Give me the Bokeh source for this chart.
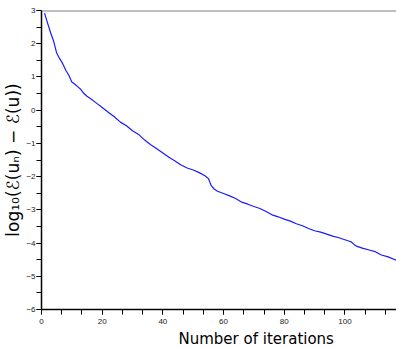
from bokeh.plotting import figure
from bokeh.models import Range1d, Span, FixedTicker, CustomJSTickFormatter, Title
from bokeh.embed import file_html
from bokeh.resources import INLINE

iterations = [1, 2, 3, 4, 5, 6, 7, 8, 9, 10, 11, 12, 13, 14, 15, 16, 18, 20, 22, 24,
              26, 28, 30, 32, 34, 36, 38, 40, 42, 44, 46, 48, 50, 52, 54, 55, 56, 57,
              58, 60, 62, 64, 66, 68, 70, 72, 74, 76, 78, 80, 82, 84, 86, 88, 90, 92,
              94, 96, 98, 100, 102, 103, 104, 106, 108, 110, 112, 114, 117]
log_error = [2.92, 2.62, 2.33, 2.08, 1.72, 1.55, 1.40, 1.20, 1.05, 0.85, 0.78, 0.70,
             0.62, 0.50, 0.42, 0.36, 0.22, 0.08, -0.06, -0.20, -0.36, -0.47, -0.62,
             -0.73, -0.90, -1.04, -1.16, -1.29, -1.42, -1.53, -1.65, -1.74, -1.80,
             -1.88, -1.98, -2.06, -2.28, -2.38, -2.44, -2.51, -2.58, -2.66, -2.77,
             -2.83, -2.90, -2.96, -3.05, -3.15, -3.21, -3.28, -3.34, -3.42, -3.48,
             -3.56, -3.63, -3.67, -3.73, -3.79, -3.84, -3.90, -3.96, -4.04, -4.10,
             -4.16, -4.21, -4.26, -4.36, -4.41, -4.52]
x_ticks = [0, 20, 40, 60, 80, 100]
y_ticks = [-6, -5, -4, -3, -2, -1, 0, 1, 2, 3]

p = figure(width=396, height=348, output_backend="svg", toolbar_location=None,
           x_range=Range1d(0, 117), y_range=Range1d(-6, 3),
           min_border_left=41, min_border_top=10, min_border_right=0, min_border_bottom=0)
p.outline_line_color = None
p.grid.visible = False
p.background_fill_color = "white"

p.line(iterations, log_error, line_color="#1a1aff", line_width=1.2)

top = Span(location=3, dimension="width", line_color="#808080", line_width=2)
p.add_layout(top)

fmt = CustomJSTickFormatter(code="return tick < 0 ? '\\u2212' + Math.abs(tick) : String(tick);")

xa = p.xaxis[0]
xa.ticker = FixedTicker(ticks=x_ticks, minor_ticks=[i * 20 / 3 for i in range(0, 18)])
ya = p.yaxis[0]
ya.ticker = FixedTicker(ticks=y_ticks, minor_ticks=[v / 2 for v in range(-12, 7)])
ya.formatter = fmt

for ax in (xa, ya):
    ax.axis_line_color = "black"
    ax.axis_line_width = 1.5
    ax.major_tick_in = 0
    ax.major_tick_out = 5
    ax.minor_tick_in = 0
    ax.minor_tick_out = 5
    ax.major_tick_line_color = "black"
    ax.minor_tick_line_color = "black"
    ax.major_label_text_font = "Liberation Sans"
    ax.major_label_text_font_size = "8px"
    ax.major_label_text_color = "#222222"
    ax.axis_label_text_font_style = "normal"
    ax.axis_label_text_color = "black"

xa.major_label_standoff = 4

xlabel = Title(text="Number of iterations", align="left", offset=137,
               text_font="DejaVu Sans", text_font_size="15px", text_font_style="normal",
               text_color="black", standoff=2)
p.add_layout(xlabel, "below")

ya.major_label_standoff = 1
ya.axis_label = "log\u2081\u2080(\u2130(u\u2099) \u2212 \u2130(u))"
ya.axis_label_text_font = "DejaVu Sans"
ya.axis_label_text_font_size = "17px"
ya.axis_label_standoff = 0

open("out.html", "w").write(file_html(p, INLINE))
